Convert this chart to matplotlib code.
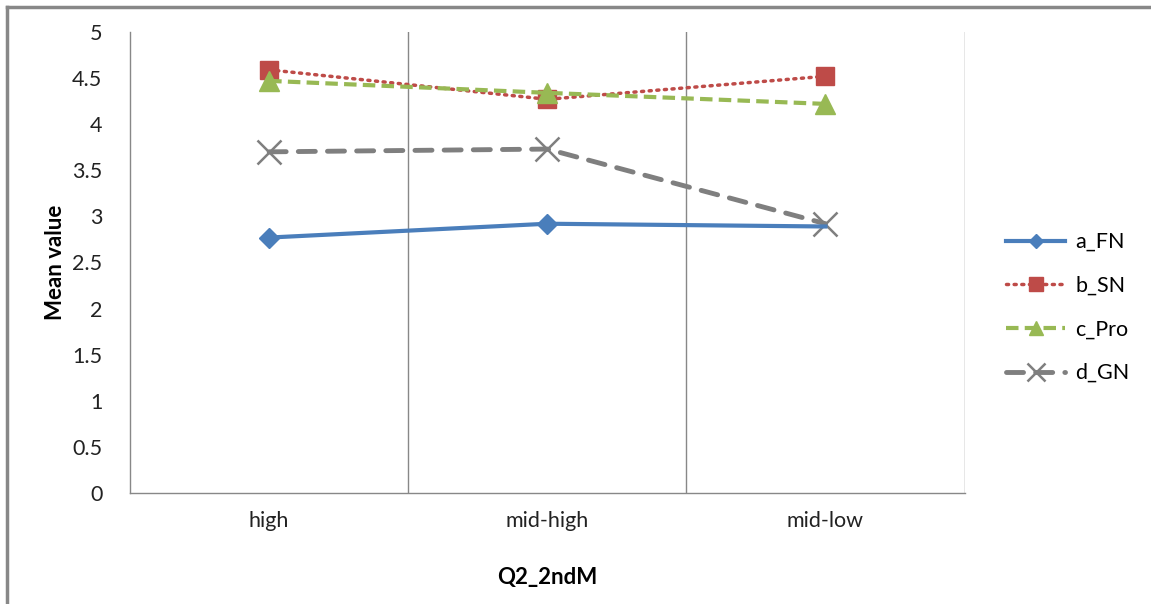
import matplotlib.pyplot as plt
from matplotlib.lines import Line2D

plt.rcParams['font.family'] = ['Lato', 'DejaVu Sans']

# categories and mean values per group
categories = ['high', 'mid-high', 'mid-low']
a_fn = [2.77, 2.92, 2.89]
b_sn = [4.59, 4.27, 4.52]
c_pro = [4.47, 4.34, 4.22]
d_gn = [3.70, 3.73, 2.92]

fig = plt.figure(figsize=(11.51, 6.04), dpi=100)
ax = fig.add_axes([0.113, 0.184, 0.725, 0.763])

x = list(range(len(categories)))

ax.plot(x, a_fn, color='#4a7ebb', lw=3, marker='D', ms=10, markevery=[0, 1], label='a_FN', zorder=3)
ax.plot(x, b_sn, color='#be4b48', lw=2.5, ls=(0, (0.6, 1.6)), dash_capstyle='round',
        marker='s', ms=13, label='b_SN', zorder=4)
ax.plot(x, c_pro, color='#98b954', lw=3, ls=(0, (3, 1.5)), marker='^', ms=14, label='c_Pro', zorder=5)
ax.plot(x, d_gn, color='#7f7f7f', lw=3.5, ls=(0, (3.5, 2.5)), dash_capstyle='round',
        marker='x', ms=17, mew=1.8, label='d_GN', zorder=2)

ax.set_xlim(-0.5, len(categories) - 0.5)
ax.set_ylim(0, 5)
ax.set_yticks([0, 0.5, 1, 1.5, 2, 2.5, 3, 3.5, 4, 4.5, 5])
ax.set_yticklabels(['0', '0.5', '1', '1.5', '2', '2.5', '3', '3.5', '4', '4.5', '5'])
ax.set_xticks(x)
ax.set_xticklabels(categories)
ax.tick_params(axis='both', length=0, labelsize=15.5, colors='#222222')
ax.tick_params(axis='x', pad=13)
ax.tick_params(axis='y', pad=20)

# vertical grid lines on category boundaries
for b in [0.5, 1.5, 2.5]:
    ax.axvline(b, color='#888888', lw=1, zorder=1)

for side in ['top', 'right']:
    ax.spines[side].set_visible(False)
for side in ['left', 'bottom']:
    ax.spines[side].set_color('#888888')
    ax.spines[side].set_linewidth(1)

ax.set_xlabel('Q2_2ndM', fontsize=16, fontweight='bold', labelpad=26)
ax.set_ylabel('Mean value', fontsize=16, fontweight='bold', labelpad=4)

ax.legend(loc='center left', bbox_to_anchor=(1.027, 0.402), frameon=False, fontsize=15.5,
          handlelength=2.7, labelspacing=1.1, handletextpad=0.5, markerscale=0.75)

# outer chart border (left and top only, as cropped)
fig.add_artist(Line2D([0.006, 0.006], [0, 0.988], color='#888888', lw=2.5))
fig.add_artist(Line2D([0.006, 1], [0.988, 0.988], color='#888888', lw=2.5))

fig.savefig('out.png', dpi=100)
